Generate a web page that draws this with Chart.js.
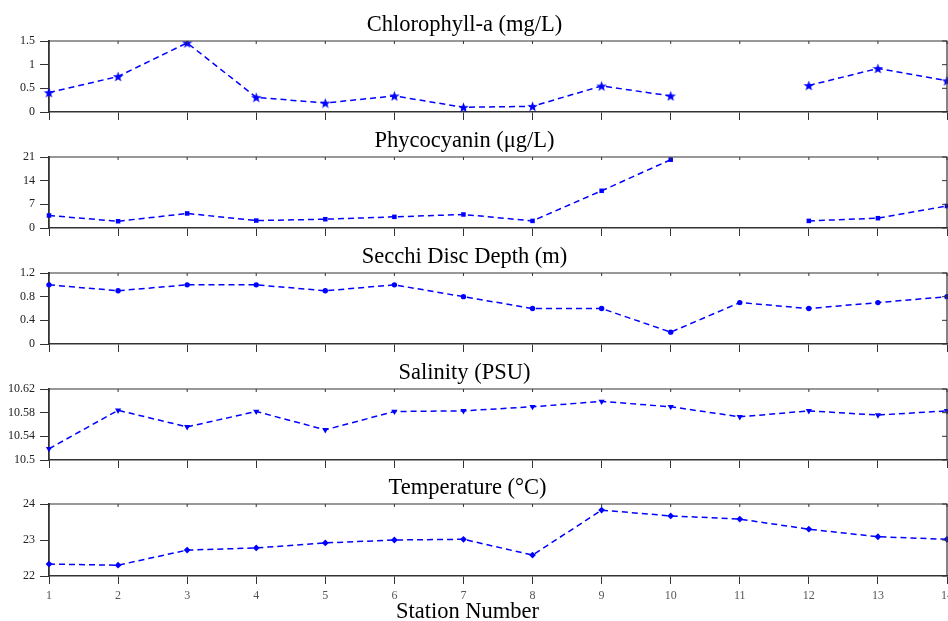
<!DOCTYPE html>
<html>
<head>
<meta charset="utf-8">
<script src="https://cdn.jsdelivr.net/npm/chart.js@4.4.1/dist/chart.umd.min.js"></script>
<style>
  body { margin: 0; background: #fff; }
  #wrap { position: relative; width: 948px; height: 621px; overflow: hidden; }
  #wrap canvas { position: absolute; }
</style>
</head>
<body>
<div id="wrap">
  <canvas id="c1" width="966" height="111" style="top:11px;left:-18px"></canvas>
  <canvas id="c2" width="966" height="111" style="top:127px;left:-18px"></canvas>
  <canvas id="c3" width="966" height="111" style="top:243px;left:-18px"></canvas>
  <canvas id="c4" width="966" height="111" style="top:359px;left:-18px"></canvas>
  <canvas id="c5" width="960" height="147" style="top:474px;left:-12px"></canvas>
</div>
<script>
const stations = ['1','2','3','4','5','6','7','8','9','10','11','12','13','14'];

// null = no sample at station 11
const chlorophyll = [0.41, 0.75, 1.46, 0.31, 0.19, 0.34, 0.10, 0.12, 0.55, 0.34, null, 0.56, 0.92, 0.66];
const phycocyanin = [3.7, 2.0, 4.3, 2.2, 2.6, 3.3, 4.0, 2.1, 11.0, 20.2, null, 2.1, 2.9, 6.5];
const secchi = [1.0, 0.9, 1.0, 1.0, 0.9, 1.0, 0.8, 0.6, 0.6, 0.2, 0.7, 0.6, 0.7, 0.8];
const salinity = [10.519, 10.584, 10.556, 10.582, 10.551, 10.582, 10.583, 10.590, 10.599, 10.590, 10.573, 10.583, 10.576, 10.583];
const temperature = [22.33, 22.30, 22.72, 22.78, 22.92, 23.00, 23.02, 22.58, 23.83, 23.67, 23.58, 23.30, 23.09, 23.02];

const chlTicks = [0, 0.5, 1, 1.5];
const phycoTicks = [0, 7, 14, 21];
const secchiTicks = [0, 0.4, 0.8, 1.2];
const salinityTicks = [10.5, 10.54, 10.58, 10.62];
const tempTicks = [22, 23, 24];

const BLUE = '#0000ff';
const AXIS = '#333333';
const SERIF = "'Liberation Serif', 'Times New Roman', serif";

// filled five-point star used as the chlorophyll marker
function starImage(size) {
    const c = document.createElement('canvas');
    c.width = size; c.height = size;
    const g = c.getContext('2d');
    const cx = size / 2, cy = size / 2 + 0.5;
    const outer = size / 2, inner = outer * 0.42;
    g.beginPath();
    for (let i = 0; i < 10; i++) {
        const r = i % 2 === 0 ? outer : inner;
        const a = -Math.PI / 2 + i * Math.PI / 5;
        const px = cx + r * Math.cos(a), py = cy + r * Math.sin(a);
        if (i === 0) g.moveTo(px, py); else g.lineTo(px, py);
    }
    g.closePath();
    g.fillStyle = BLUE;
    g.fill();
    return c;
}

// top/right frame with small inward ticks (matlab style box)
const boxPlugin = {
    id: 'boxFrame',
    afterDraw(chart) {
        const { ctx, chartArea: a, scales } = chart;
        ctx.save();
        ctx.strokeStyle = AXIS;
        ctx.lineWidth = 1.2;
        ctx.beginPath();
        ctx.moveTo(a.left, a.top); ctx.lineTo(a.right, a.top); ctx.lineTo(a.right, a.bottom);
        ctx.stroke();
        ctx.lineWidth = 1;
        ctx.beginPath();
        scales.x.ticks.forEach((t, i) => {
            const px = scales.x.getPixelForTick(i);
            ctx.moveTo(px, a.top); ctx.lineTo(px, a.top + 3);
        });
        scales.y.ticks.forEach(t => {
            const py = scales.y.getPixelForValue(t.value);
            ctx.moveTo(a.right, py); ctx.lineTo(a.right - 5, py);
        });
        ctx.stroke();
        ctx.restore();
    }
};

function makePanel(id, title, values, yTicks, marker, isLast, yAxisWidth) {
    const ds = {
        data: values,
        borderColor: BLUE,
        backgroundColor: BLUE,
        borderWidth: 1.5,
        borderDash: [6, 4],
        spanGaps: false,
        tension: 0,
        pointStyle: marker.style,
        pointRadius: marker.radius,
        pointRotation: marker.rotation || 0,
        pointBorderWidth: 0,
        pointBackgroundColor: BLUE
    };

    return new Chart(document.getElementById(id), {
        type: 'line',
        data: { labels: stations, datasets: [ds] },
        plugins: [boxPlugin],
        options: {
            responsive: false,
            animation: false,
            events: [],
            layout: { autoPadding: false, padding: { left: 0, right: 1, top: 0, bottom: 0 } },
            plugins: {
                legend: { display: false },
                tooltip: { enabled: false },
                title: {
                    display: true,
                    text: title,
                    color: '#000',
                    font: { family: SERIF, size: 22.5, weight: 'normal', lineHeight: 1 },
                    padding: { top: 2.5, bottom: 5 }
                },
                // zero-height box so it sits over the tick label area
                subtitle: {
                    display: isLast,
                    position: 'bottom',
                    text: 'Station Number',
                    color: '#000',
                    font: { family: SERIF, size: 22.5, weight: 'normal', lineHeight: 1 },
                    padding: { top: -20.5, bottom: -2 }
                }
            },
            scales: {
                x: {
                    offset: false,
                    grid: { display: true, drawOnChartArea: false, drawTicks: true, tickLength: 8, color: AXIS, lineWidth: 1 },
                    border: { display: true, color: AXIS, width: 1.5 },
                    ticks: {
                        display: isLast,
                        color: '#555',
                        font: { family: SERIF, size: 12 },
                        padding: 5,
                        maxRotation: 0,
                        autoSkip: false
                    },
                    afterFit(scale) {
                        scale.height = isLast ? 45 : 10;
                        scale.paddingLeft = 0;
                        scale.paddingRight = 0;
                    }
                },
                y: {
                    min: yTicks[0],
                    max: yTicks[yTicks.length - 1],
                    afterBuildTicks(scale) { scale.ticks = yTicks.map(v => ({ value: v })); },
                    grid: { display: true, drawOnChartArea: false, drawTicks: true, tickLength: 9, color: AXIS, lineWidth: 1 },
                    border: { display: true, color: AXIS, width: 1.8 },
                    ticks: {
                        color: '#222',
                        font: { family: SERIF, size: 12 },
                        padding: 5,
                        callback: v => String(v)
                    },
                    afterFit(scale) {
                        scale.width = yAxisWidth;
                        scale.paddingTop = 0;
                        scale.paddingBottom = 0;
                    }
                }
            }
        }
    });
}

makePanel('c1', 'Chlorophyll-a (mg/L)', chlorophyll, chlTicks, { style: starImage(11), radius: 5 }, false, 67);
makePanel('c2', 'Phycocyanin (\u03bcg/L)', phycocyanin, phycoTicks, { style: 'rect', radius: 3.2 }, false, 67);
makePanel('c3', 'Secchi Disc Depth (m)', secchi, secchiTicks, { style: 'circle', radius: 2.7 }, false, 67);
makePanel('c4', 'Salinity (PSU)', salinity, salinityTicks, { style: 'triangle', radius: 3.6, rotation: 180 }, false, 67);
makePanel('c5', 'Temperature (\u00b0C)', temperature, tempTicks, { style: 'rectRot', radius: 3.4 }, true, 61);
</script>
</body>
</html>
